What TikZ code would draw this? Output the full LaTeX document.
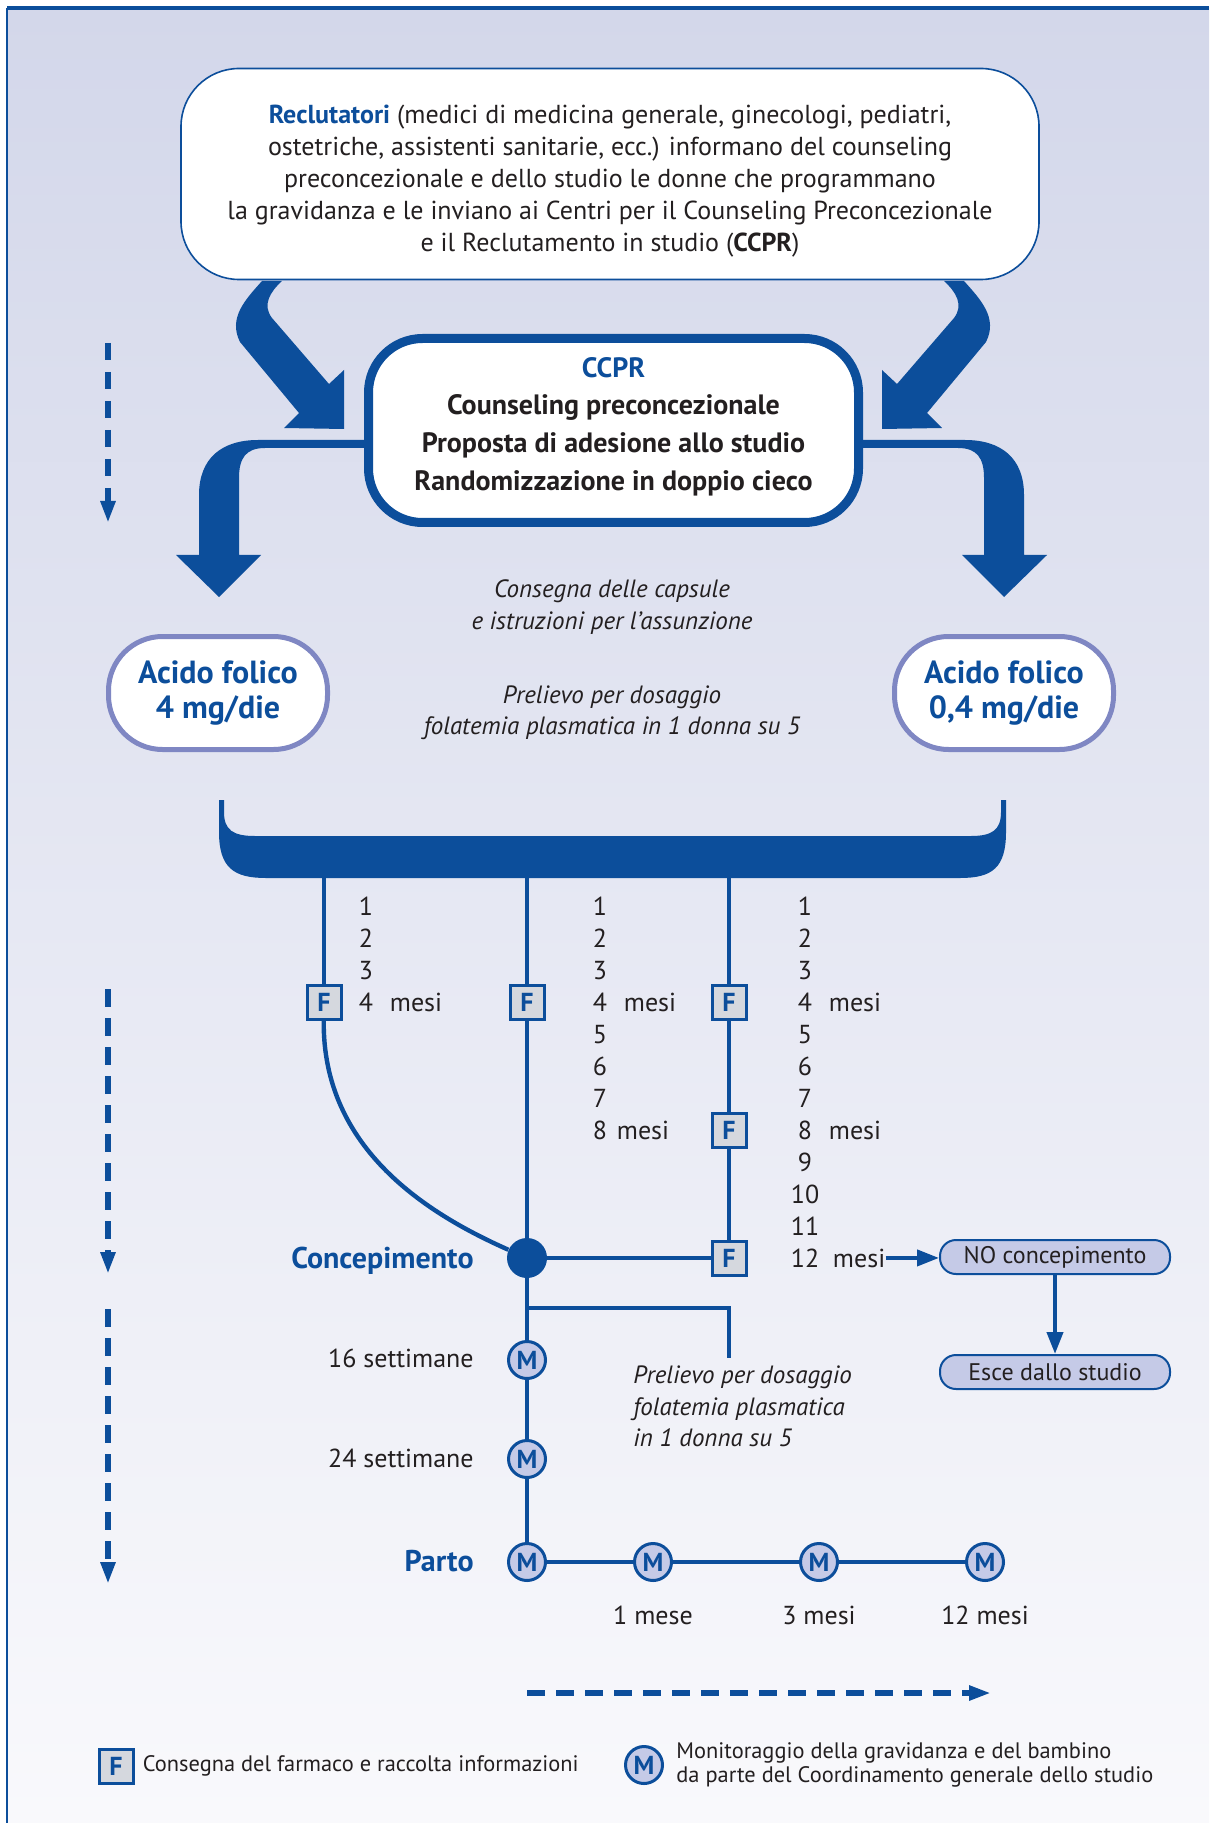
\documentclass[tikz,border=0pt]{standalone}
\usepackage{fontspec}
\setmainfont{PT Sans}
\usepackage{xcolor}
\definecolor{cMain}{HTML}{0C4E9B}
\definecolor{cText}{HTML}{231F20}
\definecolor{cPeri}{HTML}{7F87C3}
\definecolor{cMfill}{HTML}{C5CAE7}
\definecolor{cFfill}{HTML}{D5D8DE}
\definecolor{cBgTop}{HTML}{D3D7EA}
\definecolor{cBgBot}{HTML}{F9F9FC}
\usepackage{tikz}
\usetikzlibrary{positioning,arrows.meta}
\tikzset{
  box-top/.style={draw=cMain,line width=0.8pt,fill=white,rounded corners=29pt,
    minimum width=429pt,minimum height=105.5pt},
  box-ccpr/.style={draw=cMain,line width=4.5pt,fill=white,rounded corners=27pt,
    minimum width=245pt,minimum height=92pt},
  box-dose/.style={draw=cPeri,line width=2.5pt,fill=white,rounded corners=27pt,
    minimum width=109.5pt,minimum height=56.5pt,align=center,text=cMain,
    font=\bfseries\fontsize{16}{17.5}\selectfont},
  node-f/.style={draw=cMain,line width=1.5pt,fill=cFfill,minimum size=17pt,
    inner sep=0pt,text=cMain,font=\bfseries\fontsize{13}{13}\selectfont},
  node-m/.style={circle,draw=cMain,line width=1.5pt,fill=cMfill,minimum size=18.5pt,
    inner sep=0pt,text=cMain,font=\bfseries\fontsize{13}{13}\selectfont},
  node-dot/.style={circle,fill=cMain,minimum size=20pt,inner sep=0pt},
  node-out/.style={draw=cMain,line width=1pt,fill=cMfill,rounded corners=8pt,
    minimum width=115pt,minimum height=17pt,inner sep=0pt,text=cText,
    font=\fontsize{12}{14}\selectfont},
  lbl/.style={text=cText,inner sep=0pt,font=\fontsize{13}{16}\selectfont},
  lbl-it/.style={text=cText,inner sep=0pt,font=\itshape\fontsize{12.5}{15.7}\selectfont},
  lbl-key/.style={text=cMain,inner sep=0pt,font=\bfseries\fontsize{15}{16}\selectfont},
  lbl-leg/.style={text=cText,inner sep=0pt,font=\fontsize{11.2}{11.6}\selectfont},
  link/.style={draw=cMain,line width=2.2pt},
  arrow/.style={draw=cMain,line width=2pt,-{Triangle[length=11pt,width=8pt]}},
  arrow-time/.style={draw=cMain,line width=3pt,dash pattern=on 8.75pt off 5.75pt,
    -{Triangle[length=11pt,width=7pt]}},
}

\begin{document}
\begin{tikzpicture}[x=0.5pt,y=-0.5pt]
  \useasboundingbox (0,0) rectangle (1209,1823);
  % fondo
  \shade[top color=cBgTop,bottom color=cBgBot] (7,8) rectangle (1209,1823);
  \draw[cMain,line width=2pt] (7,8) -- (1209,8);
  \draw[cMain,line width=0.7pt] (7,8) -- (7,1823);

  % frecce grandi
  \fill[cMain] (262,281) .. controls (245,300) and (228,318) .. (240,342) -- (299,413)
    -- (284,428) -- (344,429) -- (344,370) -- (329,384) -- (272,318)
    .. controls (262,305) and (270,292) .. (282,281) -- cycle;
  \fill[cMain] (964,281) .. controls (981,300) and (998,318) .. (986,342) -- (927,413)
    -- (942,428) -- (882,429) -- (882,370) -- (897,384) -- (954,318)
    .. controls (964,305) and (956,292) .. (944,281) -- cycle;
  \fill[cMain] (370,440) -- (258,440) .. controls (222,440) and (199,458) .. (199,495)
    -- (199,555) -- (176,555) -- (219,597) -- (261,555) -- (239,555) -- (239,478)
    .. controls (239,458) and (246,448) .. (265,448) -- (370,448) -- cycle;
  \fill[cMain] (857,440) -- (965,440) .. controls (1001,440) and (1024,458) .. (1024,495)
    -- (1024,555) -- (1047,555) -- (1004,597) -- (962,555) -- (984,555) -- (984,478)
    .. controls (984,458) and (977,448) .. (958,448) -- (857,448) -- cycle;
  % graffa
  \fill[cMain] (219,800) -- (219,832) .. controls (219,868) and (234,878) .. (266,878)
    -- (960,878) .. controls (992,878) and (1006,868) .. (1006,832) -- (1006,800)
    -- (1001,800) -- (1001,812) .. controls (1001,830) and (992,836) .. (971,836)
    -- (255,836) .. controls (233,836) and (224,830) .. (224,812) -- (224,800) -- cycle;

  \node[box-top] (rec) at (610,174) {};
  \node[lbl,align=center] (rec-txt) at (610,181) {\textcolor{cMain}{\textbf{Reclutatori}} (medici di medicina generale, ginecologi, pediatri,\\
    ostetriche, assistenti sanitarie, ecc.) informano del counseling\\
    preconcezionale e dello studio le donne che programmano\\
    la gravidanza e le inviano ai Centri per il Counseling Preconcezionale\\
    e il Reclutamento in studio (\textbf{CCPR})};
  \node[box-ccpr] (ccpr) at (613.5,430.5) {};
  \node[lbl,align=center,font=\bfseries\fontsize{14}{18.8}\selectfont] (ccpr-txt) at (613.5,426.5)
    {\textcolor{cMain}{CCPR}\\ Counseling preconcezionale\\ Proposta di adesione allo studio\\ Randomizzazione in doppio cieco};
  \node[box-dose] (afL) at (218,693) {Acido folico\\ 4 mg/die};
  \node[box-dose] (afR) at (1004,693) {Acido folico\\ 0,4 mg/die};
  \node[lbl-it,align=center] (caps) at (612,607) {Consegna delle capsule\\ e istruzioni per l’assunzione};
  \node[lbl-it,align=center] (prel) at (612,713) {Prelievo per dosaggio\\ folatemia plasmatica in 1 donna su 5};

  % mesi
  \foreach \c/\x/\n in {1/366/4,2/600/8,3/805/12}
    \foreach \k in {1,...,\n}
      \node[lbl,anchor=base] (n\c-\k) at (\x,{915+32*(\k-1)}) {\k};
  \node[lbl,base right=8pt of n1-4] (ms1-4) {mesi};
  \node[lbl,base right=8pt of n2-4] (ms2-4) {mesi};
  \node[lbl,base right=4.5pt of n2-8] (ms2-8) {mesi};
  \node[lbl,base right=8pt of n3-4] (ms3-4) {mesi};
  \node[lbl,base right=8pt of n3-8] (ms3-8) {mesi};
  \node[lbl,base right=6.5pt of n3-12] (ms3-12) {mesi};

  \coordinate (b1) at (324,870);
  \coordinate (b2) at (527,870);
  \coordinate (b3) at (729,870);
  \node[node-f] (f1) at (324,1002) {F};
  \node[node-f] (f2) at (527,1002) {F};
  \node[node-f] (f3) at (729,1002) {F};
  \node[node-f] (f4) at (729,1130) {F};
  \node[node-f] (f5) at (729,1258) {F};
  \node[node-dot] (conc) at (527,1258) {};
  \node[node-m] (mo1) at (527,1360) {M};
  \node[node-m] (mo2) at (527,1459) {M};
  \node[node-m] (mo3) at (527,1562) {M};
  \node[node-m] (mo4) at (653,1562) {M};
  \node[node-m] (mo5) at (819,1562) {M};
  \node[node-m] (mo6) at (985,1562) {M};

  \draw[link] (b1) -- (f1);
  \draw[link] (f1) .. controls (322,1150) and (430,1215) .. (conc);
  \draw[link] (b2) -- (f2) -- (conc);
  \draw[link] (b3) -- (f3) -- (f4) -- (f5);
  \draw[link] (conc) -- (f5);
  \draw[link] (conc) -- (mo1) -- (mo2) -- (mo3) -- (mo4) -- (mo5) -- (mo6);
  \coordinate (pj) at (527,1308);
  \coordinate (pe) at (729,1358);
  \draw[link] (pj) -| (pe);

  \node[lbl-key,anchor=base east] (lconc) at (474,1268) {Concepimento};
  \node[lbl,anchor=base east] (w16) at (474,1367) {16 settimane};
  \node[lbl,anchor=base east] (w24) at (474,1467) {24 settimane};
  \node[lbl-key,anchor=base east] (lparto) at (474,1571) {Parto};
  \node[lbl,below=12pt of mo4] (t1) {1 mese};
  \node[lbl,below=12pt of mo5] (t3) {3 mesi};
  \node[lbl,below=12pt of mo6] (t12) {12 mesi};
  \node[lbl-it,align=left,anchor=west] (prel2) at (633,1406.5) {Prelievo per dosaggio\\ folatemia plasmatica\\ in 1 donna su 5};

  \node[node-out] (noc) at (1055,1257) {NO concepimento};
  \node[node-out] (esce) at (1055,1372) {Esce dallo studio};
  \draw[arrow] (ms3-12.east) -- (ms3-12.east -| noc.west);
  \draw[arrow] (noc) -- (esce);

  % frecce tempo
  \coordinate (ta1) at (108,343);  \coordinate (tb1) at (108,523);
  \coordinate (ta2) at (108,989);  \coordinate (tb2) at (108,1274);
  \coordinate (ta3) at (108,1309); \coordinate (tb3) at (108,1584);
  \coordinate (ta4) at (527,1693); \coordinate (tb4) at (991,1693);
  \foreach \i in {1,...,4}
    \draw[arrow-time] (ta\i) -- (tb\i);

  % legenda
  \node[node-f] (kf) at (116,1766) {F};
  \node[lbl-leg,right=4pt of kf] (kft) {Consegna del farmaco e raccolta informazioni};
  \node[node-m] (km) at (644,1765) {M};
  \node[lbl-leg,align=left,right=6pt of km] (kmt) {Monitoraggio della gravidanza e del bambino\\ da parte del Coordinamento generale dello studio};
\end{tikzpicture}
\end{document}
